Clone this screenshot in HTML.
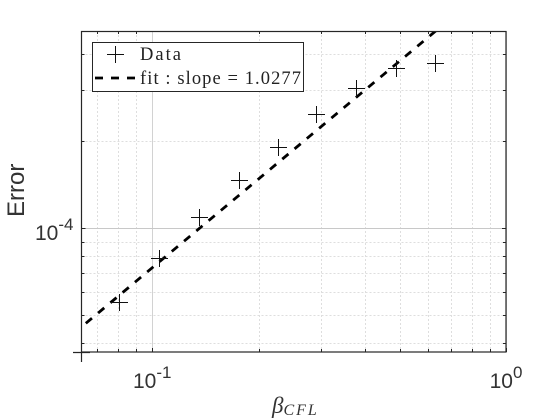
<!DOCTYPE html>
<html>
<head>
<meta charset="utf-8">
<style>
html,body{margin:0;padding:0;background:#fff;}
svg{display:block;}
text{font-family:"Liberation Sans",sans-serif;}
.serif{font-family:"Liberation Serif",serif;}
</style>
</head>
<body>
<svg id="chart" width="560" height="420" viewBox="0 0 560 420" xmlns="http://www.w3.org/2000/svg">
  <defs><clipPath id="plot-clip"><rect x="81.5" y="31" width="424.5" height="321"></rect></clipPath></defs>
  <rect x="0" y="0" width="560" height="420" fill="#ffffff"></rect>
  <g id="grid"></g>
  <g id="ticks"></g>
  <g id="fit" clip-path="url(#plot-clip)"></g>
  <g id="points"></g>
  <rect x="81.5" y="31.5" width="424.5" height="320.5" fill="none" stroke="#262626" stroke-width="1.2"></rect>
  <line x1="73" y1="352.5" x2="90" y2="352.5" stroke="#262626" stroke-width="1.2"></line>
  <line x1="81.5" y1="352" x2="81.5" y2="362" stroke="#262626" stroke-width="1.2"></line>
  <g id="labels"></g>
  <text transform="translate(24,217) rotate(-90)" font-size="24" fill="#333333">Error</text>
  <text class="serif" x="272" y="413" font-size="23" font-style="italic" fill="#333333">β<tspan font-size="16" dy="2" letter-spacing="2">CFL</tspan></text>
  <g>
    <rect x="92.5" y="42.5" width="211" height="49" fill="#ffffff" stroke="#262626" stroke-width="1"></rect>
    <line x1="107" y1="54.5" x2="124" y2="54.5" stroke="#111111" stroke-width="1"></line>
    <line x1="115.5" y1="46" x2="115.5" y2="63" stroke="#111111" stroke-width="1"></line>
    <text class="serif" x="140" y="60" font-size="18.5" fill="#222222" textLength="41" lengthAdjust="spacing">Data</text>
    <line x1="95" y1="78" x2="135" y2="78" stroke="#000000" stroke-width="2.8" stroke-dasharray="8 8"></line>
    <text class="serif" x="140" y="84" font-size="18.5" fill="#222222" textLength="161" lengthAdjust="spacing">fit : slope = 1.0277</text>
  </g>
</svg>
<script>
const dataX = [0.0810, 0.105, 0.1358, 0.176, 0.227, 0.292, 0.378, 0.489, 0.631];
const dataY = [5.53e-5, 7.85e-5, 1.092e-4, 1.458e-4, 1.911e-4, 2.472e-4, 3.05e-4, 3.58e-4, 3.72e-4];
const fitX = [0.0649, 0.6325];
const fitY = [4.69e-5, 4.82e-4];
const xDomain = [0.0631, 1];
const yDomain = [3.73e-5, 4.82e-4];
const xMajorTicks = [0.1, 1];
const xMinorTicks = [0.07, 0.08, 0.09, 0.2, 0.3, 0.4, 0.5, 0.6, 0.7, 0.8, 0.9];
const yMajorTicks = [1e-4];
const yMinorTicks = [4e-5, 5e-5, 6e-5, 7e-5, 8e-5, 9e-5, 2e-4, 3e-4, 4e-4];
const xTickExponents = ["-1", "0"];
const yTickExponents = ["-4"];

const NS = 'http://www.w3.org/2000/svg';
const left = 81.5, right = 506, top_ = 31, bottom = 352;
function xScale(v) {
  return left + (Math.log10(v) - Math.log10(xDomain[0])) / (Math.log10(xDomain[1]) - Math.log10(xDomain[0])) * (right - left);
}
function yScale(v) {
  return bottom - (Math.log10(v) - Math.log10(yDomain[0])) / (Math.log10(yDomain[1]) - Math.log10(yDomain[0])) * (bottom - top_);
}
function line(parent, x1, y1, x2, y2, stroke, width, dash) {
  const el = document.createElementNS(NS, 'line');
  el.setAttribute('x1', x1);
  el.setAttribute('y1', y1);
  el.setAttribute('x2', x2);
  el.setAttribute('y2', y2);
  el.setAttribute('stroke', stroke);
  el.setAttribute('stroke-width', width);
  if (dash) el.setAttribute('stroke-dasharray', dash);
  parent.appendChild(el);
  return el;
}
const grid = document.getElementById('grid');
const ticks = document.getElementById('ticks');
xMinorTicks.forEach(function (v) {
  const x = Math.round(xScale(v)) + 0.5;
  const g = line(grid, x, top_, x, bottom, '#dedede', 1, '2 2');
  
  
  const t1 = line(ticks, x, bottom, x, bottom - 3, '#262626', 1);
  
  
  const t2 = line(ticks, x, top_, x, top_ + 3, '#262626', 1);
  
  
});
yMinorTicks.forEach(function (v) {
  const y = Math.round(yScale(v)) + 0.5;
  const g = line(grid, left, y, right, y, '#dedede', 1, '2 2');
  
  
  const t1 = line(ticks, left, y, left + 3, y, '#262626', 1);
  
  
  const t2 = line(ticks, right, y, right - 3, y, '#262626', 1);
  
  
});
xMajorTicks.forEach(function (v) {
  const x = Math.round(xScale(v)) + 0.5;
  const g = line(grid, x, top_, x, bottom, '#d2d2d2', 1);
  
  
  const t = line(ticks, x, bottom, x, bottom - 4, '#262626', 1);
  
  
});
yMajorTicks.forEach(function (v) {
  const y = Math.round(yScale(v)) + 0.5;
  const g = line(grid, left, y, right, y, '#c8c8c8', 1);
  
  
  const t1 = line(ticks, left, y, left + 4, y, '#262626', 1);
  
  
  const t2 = line(ticks, right, y, right - 4, y, '#262626', 1);
  
  
});

const fitG = document.getElementById('fit');
const fitLine = document.createElementNS(NS, 'polyline');


fitLine.setAttribute('points', fitX.map(function (v, i) { return xScale(v) + ',' + yScale(fitY[i]); }).join(' '));
fitLine.setAttribute('fill', 'none');
fitLine.setAttribute('stroke', '#000000');
fitLine.setAttribute('stroke-width', '2.8');
fitLine.setAttribute('stroke-dasharray', '8 8');
fitG.appendChild(fitLine);

const pts = document.getElementById('points');
dataX.forEach(function (v, i) {
  const cx = Math.floor(xScale(v)) + 0.5, cy = Math.floor(yScale(dataY[i])) + 0.5;
  const g = document.createElementNS(NS, 'g');
  
  
  line(g, cx - 8.5, cy, cx + 8.5, cy, '#111111', 1);
  line(g, cx, cy - 8.5, cx, cy + 8.5, '#111111', 1);
  pts.appendChild(g);
});

const labels = document.getElementById('labels');
function tickLabel(x, y, anchor, exp, name) {
  const t = document.createElementNS(NS, 'text');
  
  
  t.setAttribute('x', x);
  t.setAttribute('y', y);
  t.setAttribute('text-anchor', anchor);
  t.setAttribute('font-size', '21');
  t.setAttribute('fill', '#333333');
  t.textContent = '10';
  const s = document.createElementNS(NS, 'tspan');
  s.setAttribute('font-size', '17');
  s.setAttribute('dy', '-10');
  s.textContent = exp;
  t.appendChild(s);
  labels.appendChild(t);
}
xMajorTicks.forEach(function (v, i) {
  tickLabel(xScale(v), 388, 'middle', xTickExponents[i], 'x-tick-label');
});
yMajorTicks.forEach(function (v, i) {
  tickLabel(35, yScale(v) + 11.7, 'start', yTickExponents[i], 'y-tick-label');
});
</script>
</body>
</html>
